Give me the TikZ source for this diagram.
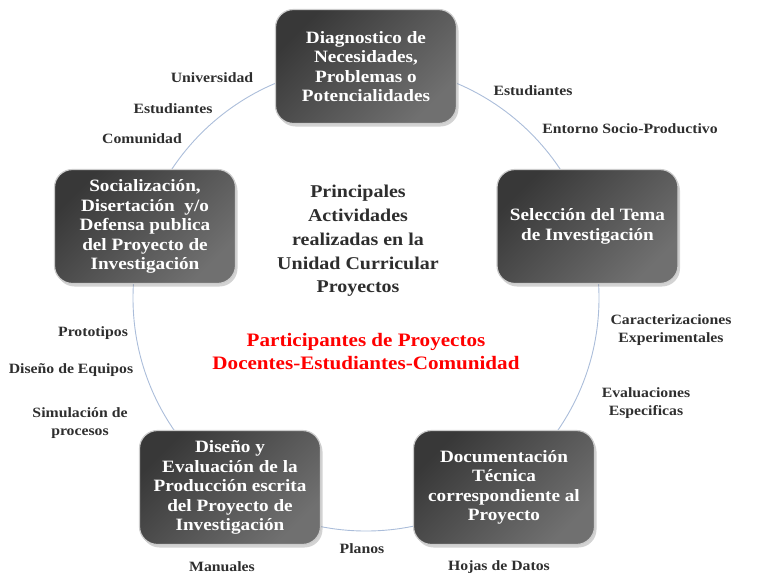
\documentclass[tikz,border=0pt]{standalone}
\usepackage{fontspec}
\setmainfont{Liberation Serif}[FakeStretch=1.11]
\usetikzlibrary{shadows}
\definecolor{lbl}{HTML}{2E2E2E}
\definecolor{ring}{HTML}{ABBDDA}
\begin{document}
\begin{tikzpicture}[x=1pt,y=-1pt,
  box/.style={rounded corners=18pt, minimum width=181pt, minimum height=114pt,
    draw=white!80!black, line width=1.2pt, top color=black!78, bottom color=black!56,
    shading angle=45,
    drop shadow={shadow xshift=2pt, shadow yshift=-3pt, opacity=0.35},
    text=white, font=\fontsize{17.3}{19.5}\selectfont\bfseries, align=center, inner sep=0pt},
  lab/.style={text=lbl, font=\fontsize{14.2}{18}\selectfont\bfseries, align=center, inner sep=0pt},
  title/.style={text=lbl, font=\fontsize{18}{23.7}\selectfont\bfseries, align=center, inner sep=0pt},
  redt/.style={text=red, font=\fontsize{19}{23}\selectfont\bfseries, align=center, inner sep=0pt}]
\useasboundingbox (0,0) rectangle (767,579);
\coordinate (c) at (366,298);
\draw[ring, line width=0.9pt] (c) circle (233);
% boxes
\node[box] (b1) at (366,66.5) {Diagnostico de\\Necesidades,\\Problemas o\\Potencialidades};
\node[box] (b2) at (587.5,226.5) {Selección del Tema\\de Investigación};
\node[box] (b3) at (504,487.5) {Documentación\\Técnica\\correspondiente al\\Proyecto};
\node[box] (b4) at (230,487.5) {Diseño y\\Evaluación de la\\Producción escrita\\del Proyecto de\\Investigación};
\node[box] (b5) at (145,226.5) {Socialización,\\Disertación~ y/o\\Defensa publica\\del Proyecto de\\Investigación};
% center texts
\node[title] (t1) at (358,241) {Principales\\Actividades\\realizadas en la\\Unidad Curricular\\Proyectos};
\node[redt] (t2) at (366,352) {Participantes de Proyectos\\Docentes-Estudiantes-Comunidad};
% labels
\node[lab] (l1) at (212,78) {Universidad};
\node[lab] (l2) at (173,109) {Estudiantes};
\node[lab] (l3) at (142,139) {Comunidad};
\node[lab] (l4) at (533,91) {Estudiantes};
\node[lab] (l5) at (630,129) {Entorno Socio-Productivo};
\node[lab] (l6) at (671,330) {Caracterizaciones\\Experimentales};
\node[lab] (l7) at (646,403) {Evaluaciones\\Especificas};
\node[lab] (l8) at (362,549) {Planos};
\node[lab] (l9) at (499,567) {Hojas de Datos};
\node[lab] (l10) at (222,567) {Manuales};
\node[lab] (l11) at (93,333) {Prototipos};
\node[lab] (l12) at (71,370) {Diseño de Equipos};
\node[lab] (l13) at (80,423) {Simulación de\\procesos};
\end{tikzpicture}
\end{document}
